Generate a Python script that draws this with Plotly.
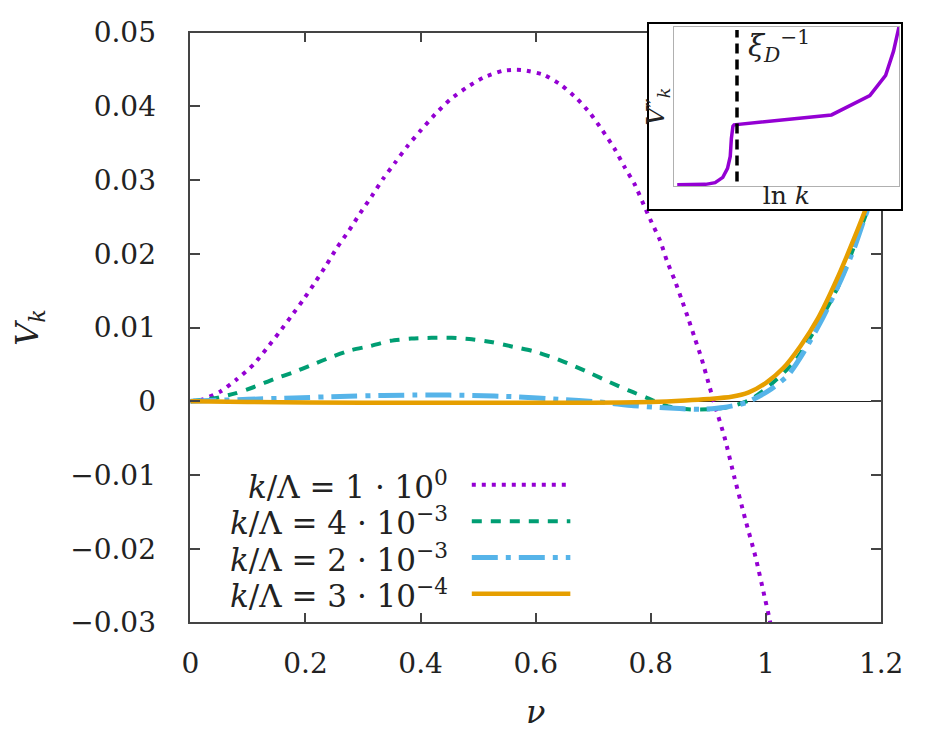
import plotly.graph_objects as go

# main axes ticks
nu_ticks = [0, 0.2, 0.4, 0.6, 0.8, 1.0, 1.2]
nu_ticktext = ["0", "0.2", "0.4", "0.6", "0.8", "1", "1.2"]
v_ticks = [-0.03, -0.02, -0.01, 0, 0.01, 0.02, 0.03, 0.04, 0.05]
v_ticktext = ["−0.03", "−0.02", "−0.01", "0", "0.01", "0.02", "0.03", "0.04", "0.05"]

labels = [
    "<i>k</i>/Λ = 1 · 10<sup>0</sup>",
    "<i>k</i>/Λ = 4 · 10<sup>−3</sup>",
    "<i>k</i>/Λ = 2 · 10<sup>−3</sup>",
    "<i>k</i>/Λ = 3 · 10<sup>−4</sup>",
]

# k/Lambda = 1
nu_1 = [0, 0.02, 0.053, 0.081, 0.11, 0.132, 0.154, 0.175, 0.1965, 0.2165, 0.2365,
        0.2553, 0.276, 0.295, 0.315, 0.335, 0.356, 0.378, 0.401, 0.425, 0.451, 0.479,
        0.509, 0.542, 0.56, 0.578, 0.613, 0.644, 0.672, 0.695, 0.716, 0.7365, 0.754,
        0.772, 0.79, 0.801, 0.816, 0.828, 0.841, 0.853, 0.865, 0.8765, 0.888, 0.9,
        0.909, 0.928, 0.945, 0.9636, 0.9817, 0.998, 1.006, 1.012]
v_1 = [0, 0.0002, 0.00136, 0.003, 0.005, 0.0071, 0.0093, 0.0115, 0.0138, 0.0161, 0.0185,
       0.0209, 0.0232, 0.0255, 0.0278, 0.0302, 0.0324, 0.0347, 0.0368, 0.0389, 0.0409, 0.0425,
       0.0439, 0.0448, 0.04495, 0.0449, 0.0443, 0.0429, 0.041, 0.039, 0.0367, 0.0343, 0.0318,
       0.0294, 0.0262, 0.0243, 0.0218, 0.019, 0.0165, 0.0139, 0.0112, 0.0085, 0.0058, 0.0025,
       0.0, -0.0049, -0.0103, -0.0159, -0.0211, -0.0267, -0.0295, -0.032]

# k/Lambda = 4e-3
nu_2 = [0, 0.042, 0.078, 0.113, 0.145, 0.178, 0.21, 0.245, 0.278, 0.313, 0.348, 0.384,
        0.419, 0.454, 0.489, 0.525, 0.56, 0.595, 0.631, 0.663, 0.695, 0.728, 0.76, 0.792,
        0.83, 0.865, 0.9, 0.935, 0.97, 1.0, 1.05, 1.093, 1.128, 1.164, 1.2]
v_2 = [0, 0.0004, 0.00106, 0.002, 0.003, 0.0039, 0.0049, 0.006, 0.0069, 0.0075, 0.0082, 0.0085,
       0.0086, 0.0086, 0.0084, 0.008, 0.0074, 0.0068, 0.0059, 0.0049, 0.0038, 0.0026, 0.0015, 0.0005,
       -0.0007, -0.0011, -0.0011, -0.0008, 0.0001, 0.0017, 0.0054, 0.0108, 0.016, 0.0233, 0.031]

# k/Lambda = 2e-3
nu_3 = [0, 0.1, 0.18, 0.26, 0.335, 0.41, 0.49, 0.566, 0.64, 0.71, 0.77, 0.815, 0.85, 0.887,
        0.926, 0.965, 1.004, 1.038, 1.065, 1.098, 1.131, 1.153, 1.172, 1.2]
v_3 = [0, 0.00026, 0.00045, 0.00065, 0.00078, 0.00086, 0.00078, 0.0006, 0.00026, -0.0001,
       -0.0006, -0.00085, -0.001, -0.0011, -0.00085, -0.0002, 0.0014, 0.0035, 0.0066, 0.0112,
       0.0166, 0.0207, 0.025, 0.031]

# k/Lambda = 3e-4
nu_4 = [0, 0.1, 0.3, 0.5, 0.7, 0.8, 0.86, 0.9, 0.94, 0.97, 1.0, 1.03, 1.06, 1.09, 1.12,
        1.15, 1.18, 1.2]
v_4 = [0, -0.0001, -0.0002, -0.0002, -0.0002, -0.0001, 0.0001, 0.0003, 0.0006, 0.0012,
       0.0025, 0.0045, 0.0075, 0.0112, 0.016, 0.0215, 0.0275, 0.032]

# inset: V''_k against ln k (arbitrary units)
inset_lnk = [0.016, 0.142, 0.184, 0.218, 0.239, 0.251, 0.256, 0.263, 0.268, 0.70, 0.87,
             0.94, 0.975, 0.999]
inset_v = [0.0, 0.002, 0.013, 0.046, 0.103, 0.179, 0.293, 0.370, 0.379, 0.442, 0.564,
           0.693, 0.846, 0.998]
xi_d_inv = 0.281

# the page puts an 8px body margin round the figure, so size it to fit the window
W, H = 916, 724
OFF = 8
FONT = "DejaVu Serif"


def px(x):
    return max(0.0, min(1.0, (x - OFF) / W))


def py(y):
    return max(0.0, min(1.0, 1 - (y - OFF) / H))


styles = [
    dict(color="#9400D3", width=4, dash="4px,6px"),
    dict(color="#009E73", width=4, dash="10px,9px"),
    dict(color="#56B4E9", width=5, dash="26px,8px,5px,8px"),
    dict(color="#E69F00", width=4.5, dash="solid"),
]

fig = go.Figure()
for x, y, st, name in zip([nu_1, nu_2, nu_3, nu_4], [v_1, v_2, v_3, v_4], styles, labels):
    fig.add_trace(go.Scatter(x=x, y=y, mode="lines", line=dict(st, shape="spline", smoothing=0.6),
                             name=name, showlegend=False))

# white box behind the inset
fig.add_trace(go.Scatter(x=[], y=[], xaxis="x2", yaxis="y2", showlegend=False, hoverinfo="skip"))
fig.add_trace(go.Scatter(x=inset_lnk, y=inset_v, xaxis="x3", yaxis="y3", mode="lines",
                         line=dict(color="#9400D3", width=3.5), showlegend=False))
fig.add_trace(go.Scatter(x=[xi_d_inv, xi_d_inv], y=[0.02, 0.98], xaxis="x3", yaxis="y3", mode="lines",
                         line=dict(color="black", width=3.5, dash="10px,6px"), showlegend=False))

# legend drawn by hand: text on the left, sample on the right
leg_y = [490.7, 529, 567, 605]
for st, name, y in zip(styles, labels, leg_y):
    fig.add_annotation(x=px(447), y=py(y), xref="paper", yref="paper", text=name,
                       showarrow=False, xanchor="right", yanchor="middle",
                       font=dict(family=FONT, size=31, color="#222"))
    fig.add_shape(type="line", xref="paper", yref="paper", x0=px(470), x1=px(574),
                  y0=py(y), y1=py(y), line=st)

fig.add_annotation(x=0.32, y=0.88, xref="x3", yref="y3",
                   text="<i>ξ</i><sub><i>D</i></sub><sup>−1</sup>",
                   showarrow=False, xanchor="left", yanchor="middle",
                   font=dict(family=FONT, size=29, color="#222"))

axis_common = dict(showline=True, mirror="ticks", linecolor="#444", linewidth=1.5,
                   ticks="inside", ticklen=10, tickwidth=1.5, tickcolor="#444",
                   showgrid=False, ticklabeloverflow="allow",
                   tickfont=dict(family=FONT, size=28, color="#222"))

fig.update_layout(
    width=W, height=H,
    margin=dict(l=0, r=0, t=0, b=0),
    paper_bgcolor="white", plot_bgcolor="white",
    xaxis=dict(axis_common, domain=[px(173), px(902)], range=[0, 1.2], tickvals=nu_ticks,
               ticktext=nu_ticktext, zeroline=False, ticklabelstandoff=15,
               title=dict(text="<i>ν</i>", font=dict(family=FONT, size=32, color="#222"), standoff=22)),
    yaxis=dict(axis_common, domain=[py(635), py(17)], range=[-0.03, 0.05], tickvals=v_ticks,
               ticktext=v_ticktext, zeroline=True, zerolinecolor="#222", zerolinewidth=1.2,
               ticklabelstandoff=27,
               title=dict(text="<i>V</i><sub><i>k</i></sub>", font=dict(family=FONT, size=32, color="#222"),
                          standoff=40)),
    xaxis2=dict(domain=[px(657), px(923)], anchor="y2", range=[0, 1], showline=True, mirror=True,
                linecolor="black", linewidth=2, showticklabels=False, ticks="", showgrid=False,
                zeroline=False),
    yaxis2=dict(domain=[py(202), 1], anchor="x2", range=[0, 1], showline=True, mirror=True,
                linecolor="black", linewidth=2, showticklabels=False, ticks="", showgrid=False,
                zeroline=False),
    xaxis3=dict(domain=[px(683), px(921)], anchor="y3", range=[0, 1], showline=True, mirror=True,
                linecolor="#b0b0b0", linewidth=1, showticklabels=False, ticks="", showgrid=False,
                zeroline=False,
                title=dict(text="ln <i>k</i>", font=dict(family=FONT, size=25, color="#222"), standoff=0)),
    yaxis3=dict(domain=[py(178), py(11)], anchor="x3", range=[-0.01, 1.0], showline=True,
                mirror=True, linecolor="#b0b0b0", linewidth=1, showticklabels=False, ticks="",
                showgrid=False, zeroline=False,
                title=dict(text="<i>V</i>″<sub><i>k</i></sub>", font=dict(family=FONT, size=25, color="#222"),
                           standoff=0)),
)

fig.write_html("out.html")
